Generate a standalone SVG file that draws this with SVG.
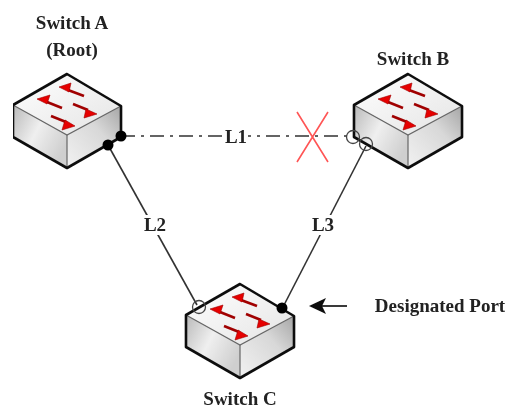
<svg xmlns="http://www.w3.org/2000/svg" width="524" height="412" viewBox="0 0 524 412">
<style>
.edge{fill:none;stroke:#111;stroke-linejoin:round;stroke-width:2.6}
.ln{fill:none;stroke:#333;stroke-width:1.6}
.lbl{font-family:"Liberation Serif","Times New Roman",serif;font-weight:bold;font-size:19px;fill:#222;text-anchor:middle}
.arr{stroke:#a00000;stroke-width:2.6;fill:none}
.hd{fill:#e60000;stroke:#a00000;stroke-width:.6}
.open{fill:none;stroke:#444;stroke-width:1.3}
</style>
<defs>
<linearGradient id="gl" x1="0" y1="0" x2="1" y2="0.6"><stop offset="0" stop-color="#b9b9b9"/><stop offset=".5" stop-color="#efefef"/><stop offset="1" stop-color="#cfcfcf"/></linearGradient>
<linearGradient id="gr" x1="0" y1="1" x2="1" y2="0"><stop offset="0" stop-color="#f2f2f2"/><stop offset=".6" stop-color="#d8d8d8"/><stop offset="1" stop-color="#a5a5a5"/></linearGradient>
<linearGradient id="gt" x1="0" y1="0" x2="1" y2="1"><stop offset="0" stop-color="#fff"/><stop offset="1" stop-color="#e4e4e4"/></linearGradient>
<filter id="soft" x="0" y="0" width="100%" height="100%"><feGaussianBlur stdDeviation="0.55"/></filter>
<g id="sw">
<path d="M13 105 L67 135 V168 L13 137Z" fill="url(#gl)"/>
<path d="M121 106 L67 135 V168 L121 137Z" fill="url(#gr)"/>
<path d="M67 74 L121 106 L67 135 L13 105Z" fill="url(#gt)"/>
<path d="M13 105 L67 135 L121 106" fill="none" stroke="#666" stroke-width="1.2"/>
<path d="M67 135 V168" stroke="#666" stroke-width="1.2"/>
<path class="edge" d="M67 74 L121 106 V137 L67 168 L13 137 V105Z"/>
<path class="arr" d="M84 96 L68 90"/><path class="hd" d="M59 87 L71 83 L69 92Z"/>
<path class="arr" d="M62 108 L47 102"/><path class="hd" d="M37 99 L50 95 L47 104Z"/>
<path class="arr" d="M73 104 L88 110"/><path class="hd" d="M97 114 L84 118 L86 109Z" transform="translate(0,0)"/>
<path class="arr" d="M51 116 L66 122"/><path class="hd" d="M75 126 L62 130 L65 120Z"/>
</g>
</defs>
<rect width="524" height="412" fill="#fff"/>
<g filter="url(#soft)">
<g id="connectors">
<path class="ln" stroke-dasharray="14 6 3 6" d="M121 136 H353"/>
<path class="ln" d="M108 145 L197 305"/>
<path class="ln" d="M366 146 L283 307"/>
<path d="M297 162 L328 112 M297 112 L328 162" fill="none" stroke="#f55" stroke-width="1.6"/>
<path d="M347 306 H320" stroke="#222" stroke-width="1.8"/>
<path d="M309 306 L326 298 L322 306 L326 314Z" fill="#111"/>
</g>
<g id="switch-a"><use href="#sw"/><circle cx="121" cy="136" r="5.5" fill="#000"/><circle cx="108" cy="145" r="5.5" fill="#000"/><text class="lbl" x="72" y="29">Switch A</text><text class="lbl" x="72" y="56">(Root)</text></g>
<g id="switch-b"><use href="#sw" x="341"/><circle class="open" cx="353" cy="137" r="6.5"/><circle class="open" cx="366" cy="144" r="6.5"/><text class="lbl" x="413" y="65">Switch B</text></g>
<g id="switch-c"><use href="#sw" x="173" y="210"/><circle class="open" cx="199" cy="307" r="6.5"/><circle cx="282" cy="308" r="5.5" fill="#000"/><text class="lbl" x="240" y="405">Switch C</text></g>
<g id="labels">
<rect x="224" y="127" width="24" height="20" fill="#fff"/><text class="lbl" x="236" y="143">L1</text>
<rect x="143" y="215" width="24" height="20" fill="#fff"/><text class="lbl" x="155" y="231">L2</text>
<rect x="311" y="215" width="24" height="20" fill="#fff"/><text class="lbl" x="323" y="231">L3</text>
<text class="lbl" x="440" y="312">Designated Port</text>
</g>
</g>
</svg>
